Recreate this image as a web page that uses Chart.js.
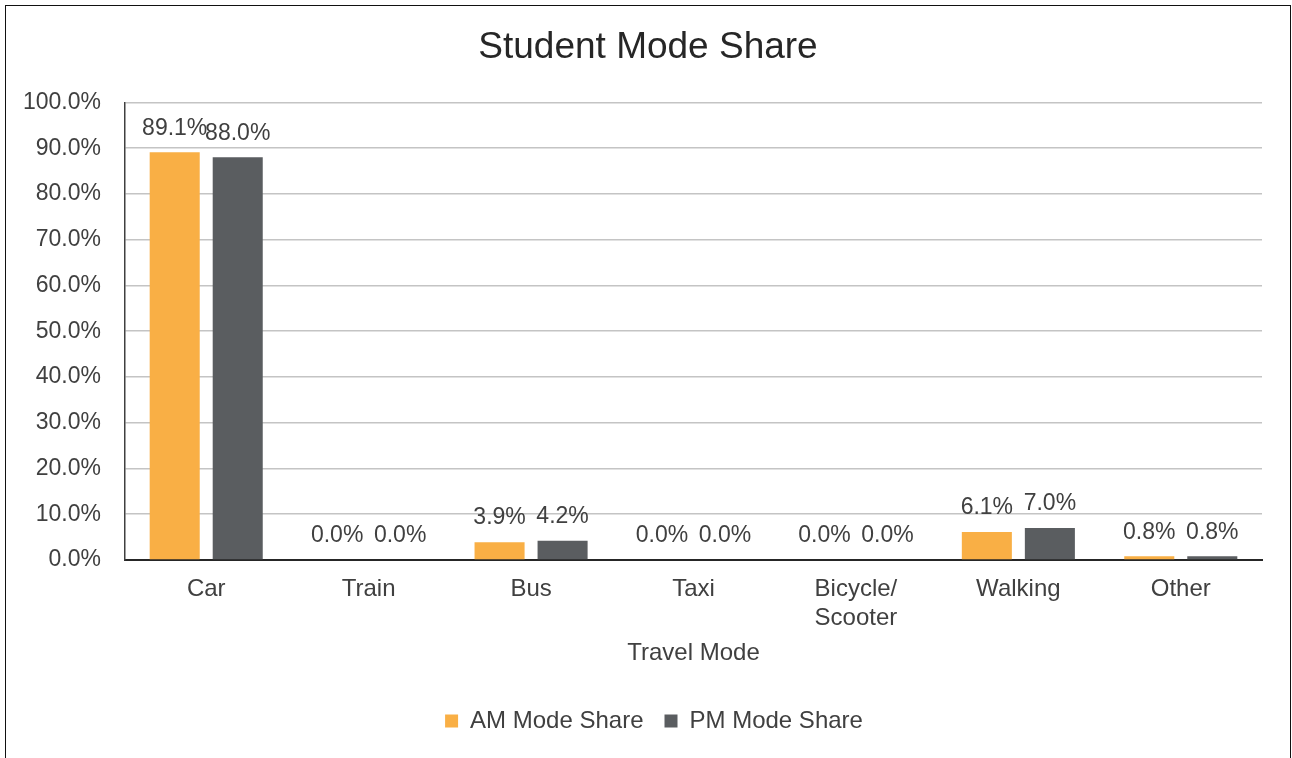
<!DOCTYPE html>
<html>
<head>
<meta charset="utf-8">
<script src="https://cdn.jsdelivr.net/npm/chart.js@4.4.0/dist/chart.umd.min.js"></script>
<style>
  html, body { margin: 0; padding: 0; background: #fff; }
  #wrap { position: relative; width: 1292px; height: 758px; overflow: hidden; }
  #frame { position: absolute; left: 5px; top: 5px; width: 1284px; height: 800px; border: 1.5px solid #111; pointer-events: none; }
  canvas { position: absolute; left: 0; top: 0; }
</style>
</head>
<body>
<div id="wrap">
  <canvas id="c" width="1292" height="758"></canvas>
  <div id="frame"></div>
</div>
<script>
const categories = ["Car", "Train", "Bus", "Taxi", ["Bicycle/", "Scooter"], "Walking", "Other"];
const amShare = [89.1, 0.0, 3.9, 0.0, 0.0, 6.1, 0.8];
const pmShare = [88.0, 0.0, 4.2, 0.0, 0.0, 7.0, 0.8];
const yTicks = [0, 10, 20, 30, 40, 50, 60, 70, 80, 90, 100];

const FONT = "'Liberation Sans', Arial, sans-serif";
const TEXT = '#404040';

const valueLabels = {
  id: 'valueLabels',
  afterDatasetsDraw(chart) {
    const ctx = chart.ctx;
    ctx.save();
    ctx.font = '23px ' + FONT;
    ctx.fillStyle = TEXT;
    ctx.textAlign = 'center';
    ctx.textBaseline = 'middle';
    chart.data.datasets.forEach((ds, di) => {
      const meta = chart.getDatasetMeta(di);
      meta.data.forEach((bar, i) => {
        ctx.fillText(ds.data[i].toFixed(1) + '%', bar.x, bar.y - 24);
      });
    });
    ctx.restore();
  }
};

// centre title and legend on the whole canvas, as in the reference
const recentre = {
  id: 'recentre',
  afterLayout(chart) {
    if (chart.titleBlock) { chart.titleBlock.right += 34; }
    if (chart.legend) { chart.legend.left += 23; chart.legend.right += 23; }
  }
};

new Chart(document.getElementById('c'), {
  type: 'bar',
  data: {
    labels: categories,
    datasets: [
      { label: 'AM Mode Share', data: amShare, backgroundColor: '#F9AF45', borderWidth: 0 },
      { label: 'PM Mode Share', data: pmShare, backgroundColor: '#5A5D60', borderWidth: 0 }
    ]
  },
  options: {
    responsive: false,
    animation: false,
    devicePixelRatio: 1,
    categoryPercentage: 0.776,
    barPercentage: 0.794,
    layout: { padding: { left: 0, right: 30, top: 0, bottom: 15 } },
    plugins: {
      title: {
        display: true,
        text: 'Student Mode Share',
        color: '#262626',
        font: { family: FONT, size: 37, weight: 'normal' },
        padding: { top: 26, bottom: 32 }
      },
      legend: {
        display: true,
        position: 'bottom',
        labels: {
          color: TEXT,
          font: { family: FONT, size: 24 },
          boxWidth: 13,
          boxHeight: 13,
          padding: 21
        }
      },
      tooltip: { enabled: false }
    },
    scales: {
      x: {
        grid: { display: false, drawTicks: false },
        border: { display: true, color: '#262626', width: 2 },
        ticks: { color: TEXT, font: { family: FONT, size: 24 }, padding: 15, maxRotation: 0, autoSkip: false },
        title: {
          display: true,
          text: 'Travel Mode',
          color: TEXT,
          font: { family: FONT, size: 24 },
          padding: { top: 0, bottom: 20 }
        },
        afterFit(scale) { scale.height = 128; }
      },
      y: {
        min: 0,
        max: 100,
        afterBuildTicks(scale) { scale.ticks = yTicks.map(v => ({ value: v })); },
        grid: { color: '#C4C4C4', lineWidth: 1.5, drawTicks: false },
        border: { display: true, color: '#404040', width: 1.5 },
        ticks: {
          color: TEXT,
          font: { family: FONT, size: 23 },
          padding: 24,
          callback: v => v.toFixed(1) + '%'
        },
        afterFit(scale) { scale.width = 125; }
      }
    }
  },
  plugins: [valueLabels, recentre]
});
</script>
</body>
</html>
